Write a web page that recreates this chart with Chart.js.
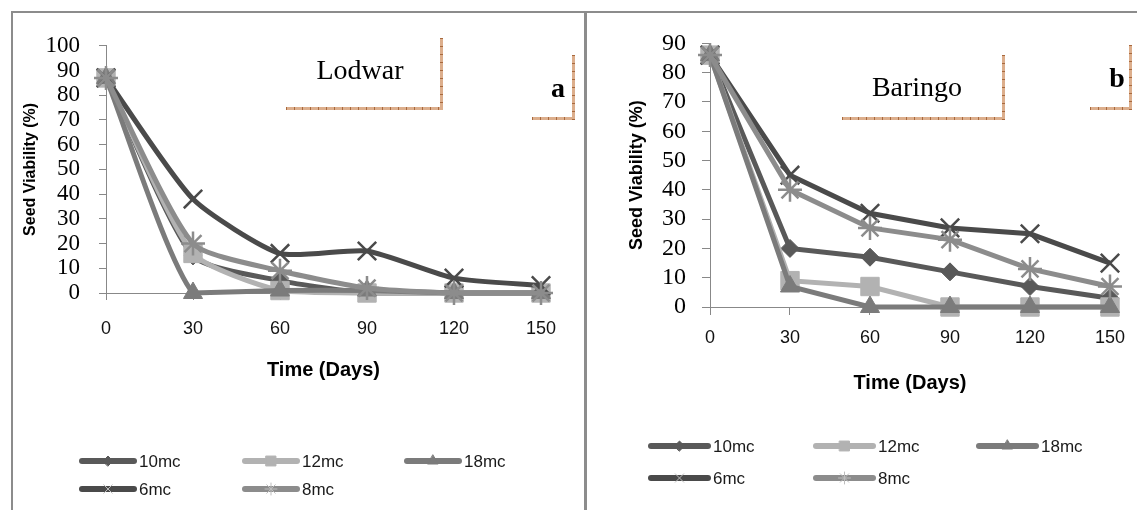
<!DOCTYPE html>
<html><head><meta charset="utf-8">
<script src="https://cdn.jsdelivr.net/npm/chart.js@4.4.1/dist/chart.umd.min.js"></script>
<style>
html,body{margin:0;padding:0;background:#fff;width:1137px;height:510px;overflow:hidden;position:relative;font-family:"Liberation Sans",Arial,sans-serif}
.abs{position:absolute}
.ln{position:absolute;background:#8c8c8c}
.hb{position:absolute;height:3px;background:repeating-linear-gradient(90deg,#a8693d 0 1px,#dcae8c 1px 8px)}
.vb{position:absolute;width:3px;background:repeating-linear-gradient(180deg,#a8693d 0 1px,#dcae8c 1px 8px)}
.tt{position:absolute;font-family:"Liberation Serif","Times New Roman",serif;font-size:28px;color:#000;transform:translate(-50%,-50%);white-space:nowrap}
</style></head><body>
<!-- panel borders -->
<div class="ln" style="left:11px;top:11px;width:1126px;height:2px"></div>
<div class="ln" style="left:11px;top:11px;width:2px;height:499px"></div>
<div class="ln" style="left:584px;top:11px;width:3px;height:499px"></div>

<canvas id="c1" class="abs" style="left:13px;top:13px" width="571" height="497"></canvas>
<canvas id="c2" class="abs" style="left:588px;top:13px" width="549" height="497"></canvas>

<!-- annotation boxes -->
<div class="tt" style="left:360px;top:70px">Lodwar</div>
<div class="hb" style="left:286px;top:107px;width:157px"></div>
<div class="vb" style="left:440px;top:38px;height:72px"></div>
<div class="tt" style="left:558px;top:88px;font-weight:bold">a</div>
<div class="hb" style="left:532px;top:117px;width:43px"></div>
<div class="vb" style="left:572px;top:55px;height:65px"></div>

<div class="tt" style="left:917px;top:87px">Baringo</div>
<div class="hb" style="left:842px;top:117px;width:163px"></div>
<div class="vb" style="left:1002px;top:55px;height:65px"></div>
<div class="tt" style="left:1117px;top:78px;font-weight:bold">b</div>
<div class="hb" style="left:1090px;top:107px;width:42px"></div>
<div class="vb" style="left:1129px;top:45px;height:65px"></div>

<script>
// ---- data ----
const days = ['0', '30', '60', '90', '120', '150'];
const seriesNames = ['10mc', '12mc', '18mc', '6mc', '8mc'];

const lodwar10mc = [87, 15, 5, 0, 0, 0];
const lodwar12mc = [87, 16, 1, 0, 0, 0];
const lodwar18mc = [87, 0, 1, 1, 0, 0];
const lodwar6mc  = [87, 38, 16, 17, 6, 3];
const lodwar8mc  = [87, 20, 9, 2, 0, 0];

const baringo10mc = [86, 20, 17, 12, 7, 3];
const baringo12mc = [86, 9, 7, 0, 0, 0];
const baringo18mc = [86, 7, 0, 0, 0, 0];
const baringo6mc  = [86, 45, 32, 27, 25, 15];
const baringo8mc  = [86, 40, 27, 23, 13, 7];

const lodwarMax = 100;
const baringoMax = 90;
const yStep = 10;

// ---- styles ----
const styles = [
  {color: '#595959', pointStyle: 'rectRot', radius: 9, bw: 1, lr: 5},
  {color: '#b2b2b2', pointStyle: 'rect', radius: 13, bw: 1, lr: 7},
  {color: '#7b7b7b', pointStyle: 'triangle', radius: 11, bw: 1, lr: 6},
  {color: '#4a4a4a', pointStyle: 'crossRot', radius: 13, bw: 2.5, lr: 6},
  {color: '#8c8c8c', pointStyle: 'star', radius: 12, bw: 2.5, lr: 6}
];

function makeDatasets(arrs, tension) {
  return arrs.map((d, i) => ({
    label: seriesNames[i],
    data: d,
    borderColor: styles[i].color,
    backgroundColor: styles[i].color,
    pointBackgroundColor: styles[i].color,
    pointBorderColor: styles[i].color,
    pointStyle: styles[i].pointStyle,
    pointRadius: styles[i].radius,
    pointBorderWidth: styles[i].bw,
    borderWidth: 5,
    tension: tension,
    order: arrs.length - 1 - i,
    clip: false
  }));
}

const legendPlugin = {
  id: 'gridLegend',
  afterDraw(chart, args, opts) {
    const ctx = chart.ctx;
    chart.data.datasets.forEach((ds, i) => {
      const p = opts.items[i];
      const st = styles[i];
      ctx.save();
      ctx.strokeStyle = ds.borderColor;
      ctx.fillStyle = ds.borderColor;
      ctx.lineWidth = 6;
      ctx.lineCap = 'round';
      ctx.beginPath();
      ctx.moveTo(p[0], p[1]);
      ctx.lineTo(p[0] + opts.lineLen, p[1]);
      ctx.stroke();
      ctx.lineWidth = 1;
      ctx.strokeStyle = (st.pointStyle === 'crossRot' || st.pointStyle === 'star') ? '#bdbdbd' : ds.borderColor;
      Chart.helpers.drawPoint(ctx, {pointStyle: st.pointStyle, radius: st.lr, borderWidth: 1, rotation: 0}, p[0] + opts.lineLen / 2, p[1]);
      ctx.fillStyle = '#1a1a1a';
      ctx.font = opts.font;
      ctx.textBaseline = 'middle';
      ctx.textAlign = 'left';
      ctx.fillText(ds.label, p[0] + opts.lineLen + 5, p[1] + 1);
      ctx.restore();
    });
  }
};

function makeChart(id, arrs, yMax, cfg) {
  new Chart(document.getElementById(id), {
    type: 'line',
    data: {labels: days, datasets: makeDatasets(arrs, cfg.tension)},
    options: {
      responsive: false,
      devicePixelRatio: 1,
      animation: false,
      events: [],
      layout: {padding: cfg.padding},
      plugins: {
        legend: {display: false},
        tooltip: {enabled: false},
        gridLegend: {items: cfg.legendItems, lineLen: cfg.lineLen, font: '17px "Liberation Sans", Arial, sans-serif'}
      },
      scales: {
        x: {
          type: 'category',
          offset: false,
          afterFit: s => { s.height = cfg.xHeight; },
          grid: {drawOnChartArea: false, drawTicks: true, tickLength: cfg.xTick, tickColor: '#888', tickWidth: 1},
          border: {color: '#888', width: 1},
          ticks: {color: '#111', padding: cfg.xPad, maxRotation: 0, autoSkip: false,
                  font: {family: '"Liberation Sans", Arial, sans-serif', size: 18}},
          title: {display: true, text: 'Time (Days)', color: '#000',
                  font: {family: '"Liberation Sans", Arial, sans-serif', size: 20, weight: 'bold'},
                  padding: {top: 0, bottom: cfg.xTitlePad}}
        },
        y: {
          min: 0, max: yMax,
          afterFit: s => { s.width = cfg.yWidth; },
          grid: {drawOnChartArea: false, drawTicks: true, tickLength: cfg.yTick, tickColor: '#888', tickWidth: 1},
          border: {color: '#888', width: 1},
          ticks: {color: '#000', padding: cfg.yPad, stepSize: yStep, autoSkip: false,
                  font: {family: '"Liberation Serif", "Times New Roman", serif', size: cfg.yFont}},
          title: {display: true, text: 'Seed Viability (%)', color: '#000',
                  font: {family: '"Liberation Sans", Arial, sans-serif', size: cfg.yTitleSize, weight: 'bold'},
                  padding: {top: cfg.yTitlePad, bottom: 0}}
        }
      }
    },
    plugins: [legendPlugin]
  });
}

makeChart('c1', [lodwar10mc, lodwar12mc, lodwar18mc, lodwar6mc, lodwar8mc], lodwarMax, {
  tension: 0.2,
  padding: {left: 0, top: 20, right: 43, bottom: 117},
  xHeight: 100, yWidth: 93,
  xTick: 7, xPad: 18, xTitlePad: 11,
  yTick: 7, yPad: 19, yFont: 23, yTitleSize: 16, yTitlePad: 8,
  lineLen: 52,
  legendItems: [[69, 448], [232, 448], [394, 448], [69, 476], [232, 476]]
});

makeChart('c2', [baringo10mc, baringo12mc, baringo18mc, baringo6mc, baringo8mc], baringoMax, {
  tension: 0,
  padding: {left: 0, top: 29, right: 14, bottom: 103},
  xHeight: 100, yWidth: 122,
  xTick: 8, xPad: 12, xTitlePad: 12,
  yTick: 8, yPad: 16, yFont: 24, yTitleSize: 18, yTitlePad: 38,
  lineLen: 57,
  legendItems: [[63, 433], [228, 433], [391, 433], [63, 465], [228, 465]]
});
</script>
</body></html>
